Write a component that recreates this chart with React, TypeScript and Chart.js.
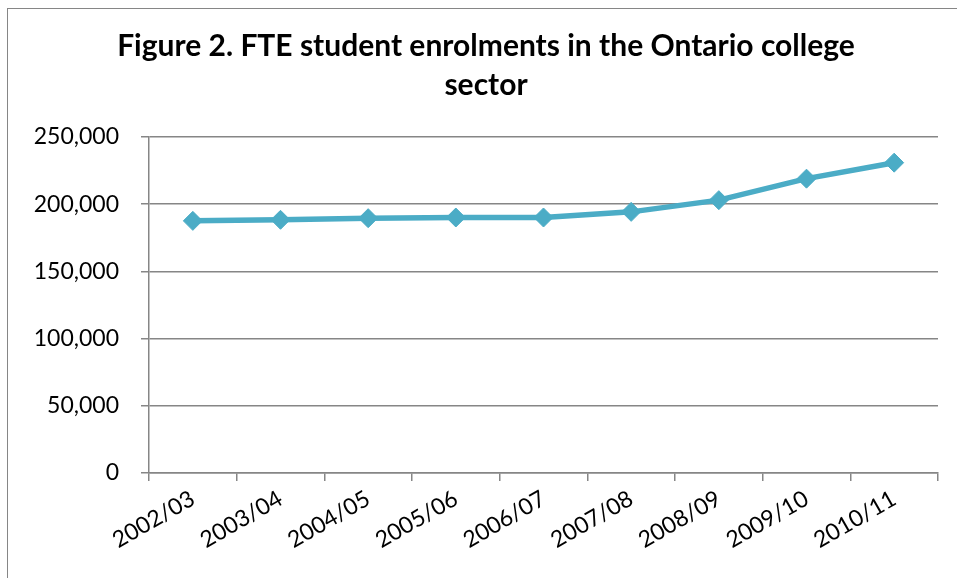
import React, { useEffect, useRef } from "react";
import { Chart, registerables } from "chart.js";

Chart.register(...registerables);

const titleLines = ["Figure 2. FTE student enrolments in the Ontario college", "sector"];
const years = ["2002/03", "2003/04", "2004/05", "2005/06", "2006/07", "2007/08", "2008/09", "2009/10", "2010/11"];
const enrolments = [187600, 188400, 189600, 190100, 190100, 194300, 203000, 219000, 230900];
const yMin = 0;
const yMax = 250000;
const yStep = 50000;

const FONT = "Lato, 'Open Sans', sans-serif";
const GRID = "#868686";
const LINE = "#4BACC6";

export default function App() {
  const ref = useRef<HTMLCanvasElement | null>(null);
  useEffect(() => {
    if (!ref.current) return;
    const chart = new Chart(ref.current, {
      type: "line",
      data: {
        labels: years,
        datasets: [
          {
            data: enrolments,
            borderColor: LINE,
            backgroundColor: LINE,
            borderWidth: 5.5,
            pointStyle: "rectRot",
            pointRadius: 9.5,
            pointHoverRadius: 9.5,
            pointBackgroundColor: LINE,
            pointBorderColor: LINE,
            pointBorderWidth: 1,
            tension: 0,
          },
        ],
      },
      options: {
        animation: false,
        responsive: false,
        devicePixelRatio: 1,
        layout: { padding: { left: 26, right: 20, top: 0, bottom: 0 } },
        plugins: {
          legend: { display: false },
          tooltip: { enabled: false },
          title: {
            display: true,
            text: titleLines,
            color: "#000",
            font: { family: FONT, size: 30, weight: "bold", lineHeight: 1.3 },
            padding: { top: 18, bottom: 32 },
          },
        },
        scales: {
          x: {
            offset: true,
            grid: {
              offset: true,
              drawOnChartArea: false,
              drawTicks: true,
              tickLength: 8,
              color: GRID,
              lineWidth: 1.5,
            },
            border: { display: true, color: GRID, width: 1.5 },
            ticks: {
              color: "#000",
              font: { family: FONT, size: 23 },
              minRotation: 30,
              maxRotation: 30,
              padding: 4,
              autoSkip: false,
            },
            afterFit: (s: any) => {
              s.height = 106;
            },
          },
          y: {
            min: yMin,
            max: yMax,
            grid: {
              color: GRID,
              lineWidth: 1.5,
              drawTicks: true,
              tickLength: 8,
            },
            border: { display: true, color: GRID, width: 1.5 },
            ticks: {
              stepSize: yStep,
              color: "#000",
              font: { family: FONT, size: 23 },
              padding: 22,
              callback: (v: any) => Number(v).toLocaleString("en-US"),
            },
            afterFit: (s: any) => {
              s.width = 115;
            },
          },
        },
      },
    });
    return () => chart.destroy();
  }, []);

  return (
    <div
      style={{
        position: "fixed",
        left: 7,
        top: 8,
        width: 960,
        height: 580,
        border: "1px solid #868686",
        background: "#fff",
      }}
    >
      <canvas ref={ref} width={950} height={570} style={{ display: "block", width: 950, height: 570 }} />
    </div>
  );
}
